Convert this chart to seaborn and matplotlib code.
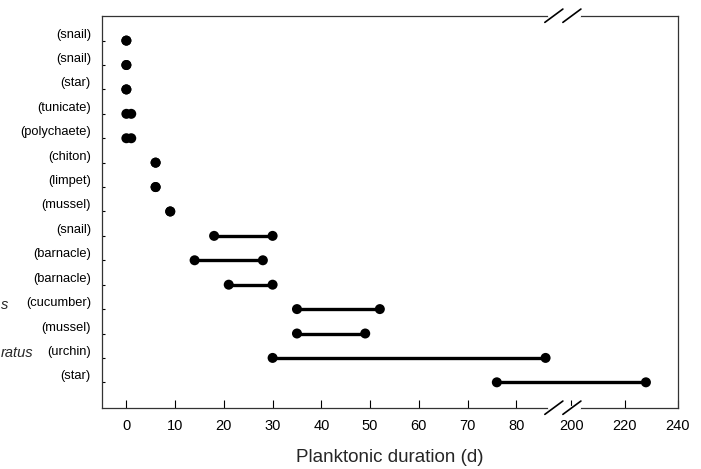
#!/usr/bin/env python
"""
  Planktonic duration ranges by species, broken x axis (0-90 | 200-240)
"""

import matplotlib
matplotlib.use('Agg')
import matplotlib.pyplot as plt
import matplotlib.transforms as mtransforms
import seaborn as sns
import pandas as pd

# rows, top to bottom
common_names = ["(snail)", "(snail)", "(star)", "(tunicate)", "(polychaete)",
                "(chiton)", "(limpet)", "(mussel)", "(snail)", "(barnacle)",
                "(barnacle)", "(cucumber)", "(mussel)", "(urchin)", "(star)"]
# italic species names, cut off by the left edge of the figure
species_tails = ["", "", "", "", "", "", "", "", "", "", "", "s", "", "ratus", ""]
dur_min = [0, 0, 0, 0, 0, 6, 6, 9, 18, 14, 21, 35, 35, 30, 76]
dur_max = [0, 0, 0, 1, 1, 6, 6, 9, 30, 28, 30, 52, 49, 86, 228]

xticks_low = [0, 10, 20, 30, 40, 50, 60, 70, 80]
xticks_high = [200, 220, 240]

# broken axis: values above the break are squeezed into the right end
BREAK_AT = 91.3
HIGH_START = 200
HIGH_SCALE = 0.546


def to_axis(v):
  if v <= 90:
    return v
  return BREAK_AT + (v - HIGH_START) * HIGH_SCALE


def main():
  sns.set_theme(style="white")
  plt.rcParams['font.family'] = ['Liberation Sans', 'DejaVu Sans']

  rows = list(range(len(common_names)))
  long = pd.DataFrame({
    "row": rows + rows,
    "pos": [to_axis(v) for v in dur_min] + [to_axis(v) for v in dur_max],
  })

  fig = plt.figure(figsize=(7.01, 4.69), dpi=100)
  ax = fig.add_axes([0.1455, 0.1307, 0.8215, 0.8358])

  sns.lineplot(data=long, x="pos", y="row", units="row", estimator=None,
               sort=False, color="black", linewidth=2.4, ax=ax)
  sns.scatterplot(data=long, x="pos", y="row", color="black", s=52,
                  edgecolor="none", ax=ax, zorder=3)

  ax.set_xlim(-5, to_axis(240))
  ax.set_ylim(15.04, -1.02)

  # ticks
  xpos = [to_axis(v) for v in xticks_low + xticks_high]
  ax.set_xticks(xpos)
  ax.set_xticklabels([str(v) for v in xticks_low + xticks_high])
  ax.set_yticks(rows)
  ax.set_yticklabels(common_names)
  for lab in ax.get_yticklabels():
    lab.set_va("bottom")
  ax.tick_params(axis="x", direction="in", length=5.5, width=0.8, pad=8,
                 labelsize=10.5, colors="black", bottom=True)
  ax.tick_params(axis="y", direction="in", length=2, width=0.8, pad=8,
                 labelsize=9.3, colors="black", left=True)

  for s in ax.spines.values():
    s.set_color("#333333")
    s.set_linewidth(0.9)

  ax.set_xlabel("Planktonic duration (d)", fontsize=13.5, labelpad=12)
  ax.set_ylabel("")

  # italic species fragments at the left edge
  trans = mtransforms.blended_transform_factory(fig.transFigure, ax.transData)
  for r, txt in zip(rows, species_tails):
    if txt:
      ax.text(33 / 701 if txt == "ratus" else 8 / 701, r + 0.1, txt,
              transform=trans, ha="right", va="bottom", fontsize=10.5,
              style="italic", clip_on=False)

  # break marks on top and bottom spines
  btrans = mtransforms.blended_transform_factory(ax.transData, ax.transAxes)
  for yy in (0, 1):
    ax.plot([87.0, 92.8], [yy, yy], transform=btrans, color="white",
            linewidth=3, clip_on=False, zorder=5)
    for cx in (87.7, 91.4):
      ax.plot([cx - 1.85, cx + 1.85], [yy - 0.017, yy + 0.017], transform=btrans,
              color="black", linewidth=1.2, clip_on=False, zorder=6)

  fig.savefig("out.png", dpi=100)


if __name__ == "__main__":
  main()
